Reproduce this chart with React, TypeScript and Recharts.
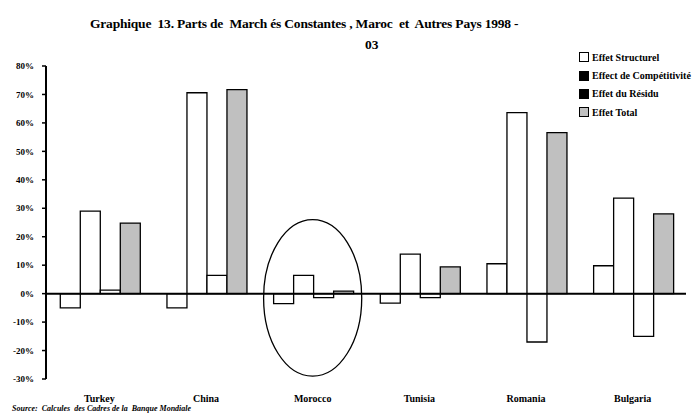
import * as React from "react";
import {
  BarChart,
  Bar,
  XAxis,
  YAxis,
  ReferenceLine,
  ReferenceArea,
} from "recharts";

const countries = ["Turkey", "China", "Morocco", "Tunisia", "Romania", "Bulgaria"];
const structurel = [-5, -5, -3.5, -3.3, 10.5, 9.8];
const competitivite = [29, 70.6, 6.4, 13.9, 63.6, 33.6];
const residu = [1.2, 6.4, -1.4, -1.4, -17, -15];
const total = [24.8, 71.7, 0.9, 9.4, 56.6, 28];
const yTicks = [-30, -20, -10, 0, 10, 20, 30, 40, 50, 60, 70, 80];

const legendItems = [
  { label: "Effet Structurel", fill: "#ffffff" },
  { label: "Effect de Compétitivité", fill: "#000000" },
  { label: "Effet du Résidu", fill: "#000000" },
  { label: "Effet Total", fill: "#c0c0c0" },
];

const data = countries.map((c, i) => ({
  name: c,
  s: structurel[i],
  c: competitivite[i],
  r: residu[i],
  t: total[i],
}));

const serif = "'Liberation Serif', 'Times New Roman', serif";

export default function App() {
  return (
    <div
      style={{
        position: "absolute",
        left: 0,
        top: 0,
        width: 696,
        height: 416,
        background: "#fff",
        fontFamily: serif,
        overflow: "hidden",
      }}
    >
      <div
        style={{
          position: "absolute",
          left: 90,
          top: 16,
          fontSize: 13.5,
          fontWeight: "bold",
          whiteSpace: "pre",
          letterSpacing: -0.2,
        }}
      >
        {"Graphique  13. Parts de  March és Constantes , Maroc  et  Autres Pays 1998 -"}
      </div>
      <div
        style={{
          position: "absolute",
          left: 365,
          top: 37,
          fontSize: 13.5,
          fontWeight: "bold",
        }}
      >
        03
      </div>

      <BarChart
        width={696}
        height={416}
        data={data}
        margin={{ top: 66, right: 10, left: 6, bottom: 17 }}
        barCategoryGap="13.4%"
        barGap={0}
      >
        <YAxis
          domain={[-30, 80]}
          ticks={yTicks}
          width={40}
          interval={0}
          tickFormatter={(v: number) => `${v}%`}
          axisLine={{ stroke: "#000", strokeWidth: 2 }}
          tickLine={{ stroke: "#000", strokeWidth: 1.5 }}
          tickSize={4}
          tickMargin={8}
          tick={{ fontSize: 9, fontWeight: "bold", fill: "#000", fontFamily: serif }}
        />
        <XAxis
          dataKey="name"
          height={20}
          axisLine={false}
          tickLine={false}
          tickMargin={10}
          tick={{ fontSize: 10, fontWeight: "bold", fill: "#000", fontFamily: serif }}
        />
        <Bar dataKey="s" fill="#ffffff" stroke="#000" strokeWidth={1.3} isAnimationActive={false} />
        <Bar dataKey="c" fill="#ffffff" stroke="#000" strokeWidth={1.3} isAnimationActive={false} />
        <Bar dataKey="r" fill="#ffffff" stroke="#000" strokeWidth={1.3} isAnimationActive={false} />
        <Bar dataKey="t" fill="#c0c0c0" stroke="#000" strokeWidth={1.3} isAnimationActive={false} />
        <ReferenceLine y={0} stroke="#000" strokeWidth={2} />
        <ReferenceArea
          x1="Morocco"
          x2="Morocco"
          y1={-29}
          y2={26}
          ifOverflow="visible"
          shape={(p: any) => (
            <ellipse
              cx={p.x + p.width / 2}
              cy={p.y + p.height / 2}
              rx={(p.width / 2) * 0.92}
              ry={p.height / 2}
              fill="none"
              stroke="#000"
              strokeWidth={1.3}
            />
          )}
        />
      </BarChart>

      <div style={{ position: "absolute", left: 579, top: 48 }}>
        {legendItems.map((it) => (
          <div
            key={it.label}
            style={{
              display: "flex",
              alignItems: "center",
              height: 18.4,
              fontSize: 10,
              fontWeight: "bold",
              whiteSpace: "nowrap",
            }}
          >
            <span
              style={{
                display: "inline-block",
                width: 8,
                height: 8,
                background: it.fill,
                border: "1px solid #000",
                marginRight: 3,
              }}
            />
            {it.label}
          </div>
        ))}
      </div>

      <div
        style={{
          position: "absolute",
          left: 12,
          top: 404,
          fontSize: 8,
          fontWeight: "bold",
          fontStyle: "italic",
          whiteSpace: "pre",
        }}
      >
        {"Source:  Calcules  des Cadres de la  Banque Mondiale"}
      </div>
    </div>
  );
}
